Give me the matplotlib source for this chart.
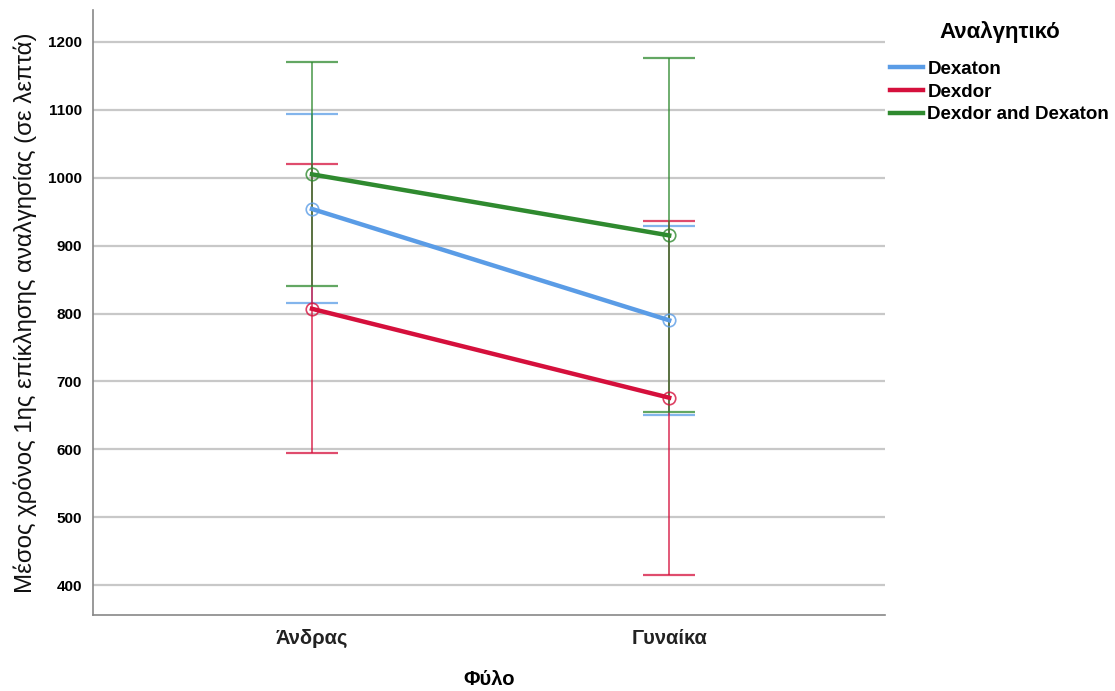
import numpy as np
import matplotlib.pyplot as plt

# data
genders = ['Άνδρας', 'Γυναίκα']
series = ['Dexaton', 'Dexdor', 'Dexdor and Dexaton']
means = {
    'Dexaton': [954, 790],
    'Dexdor': [807, 676],
    'Dexdor and Dexaton': [1005, 915],
}
upper = {
    'Dexaton': [1094, 929],
    'Dexdor': [1020, 936],
    'Dexdor and Dexaton': [1170, 1176],
}
lower = {
    'Dexaton': [815, 651],
    'Dexdor': [594, 415],
    'Dexdor and Dexaton': [840, 655],
}
colors = {
    'Dexaton': '#5a9ce6',
    'Dexdor': '#d5103c',
    'Dexdor and Dexaton': '#2f8a2f',
}

plt.rcParams['font.family'] = ['Liberation Sans', 'DejaVu Sans']

fig = plt.figure(figsize=(11.15, 6.91), dpi=100)
ax = fig.add_axes([0.0834, 0.110, 0.7106, 0.8755])

x = np.arange(len(genders))
for name in series:
    m = np.array(means[name])
    lo = m - np.array(lower[name])
    hi = np.array(upper[name]) - m
    ax.errorbar(x, m, yerr=[lo, hi], fmt='none', ecolor=colors[name],
                elinewidth=1.3, capsize=19, capthick=1.6, alpha=0.75, zorder=3)
    ax.plot(x, m, color=colors[name], lw=3.2, label=name, zorder=4)
    ax.plot(x, m, 'o', ms=9, mfc='none', mec=colors[name], mew=1.2, alpha=0.8, zorder=5)

ax.set_xlim(-0.613, 1.605)
ax.set_ylim(356, 1247)
ax.set_yticks(range(400, 1201, 100))
ax.set_xticks(x)
ax.set_xticklabels(genders, fontsize=14.5, fontweight='bold', color='#222222')
for t in ax.get_yticklabels():
    t.set_fontweight('bold')
    t.set_fontsize(11)
ax.tick_params(axis='both', length=0, pad=8)
ax.tick_params(axis='x', pad=10)

ax.grid(axis='y', color='#c8c8c8', lw=1.6)
ax.set_axisbelow(True)
for s in ['top', 'right']:
    ax.spines[s].set_visible(False)
for s in ['left', 'bottom']:
    ax.spines[s].set_color('#888888')
    ax.spines[s].set_linewidth(1.2)

ax.set_xlabel('Φύλο', fontsize=14.5, fontweight='bold', labelpad=16)
ax.set_ylabel('Μέσος χρόνος 1ης επίκλησης αναλγησίας (σε λεπτά)',
              fontsize=17.3, labelpad=8, color='#111111')

fig.text(0.897, 0.953, 'Αναλγητικό', fontsize=16, fontweight='bold',
         ha='center', va='center')
leg = ax.legend(loc='upper left', bbox_to_anchor=(0.798, 0.912),
                bbox_transform=fig.transFigure,
                frameon=False, prop={'weight': 'bold', 'size': 13.5},
                handlelength=1.75, handletextpad=0.25, labelspacing=0.3,
                borderaxespad=0.0, borderpad=0.0)

fig.savefig('out.png', dpi=100)
